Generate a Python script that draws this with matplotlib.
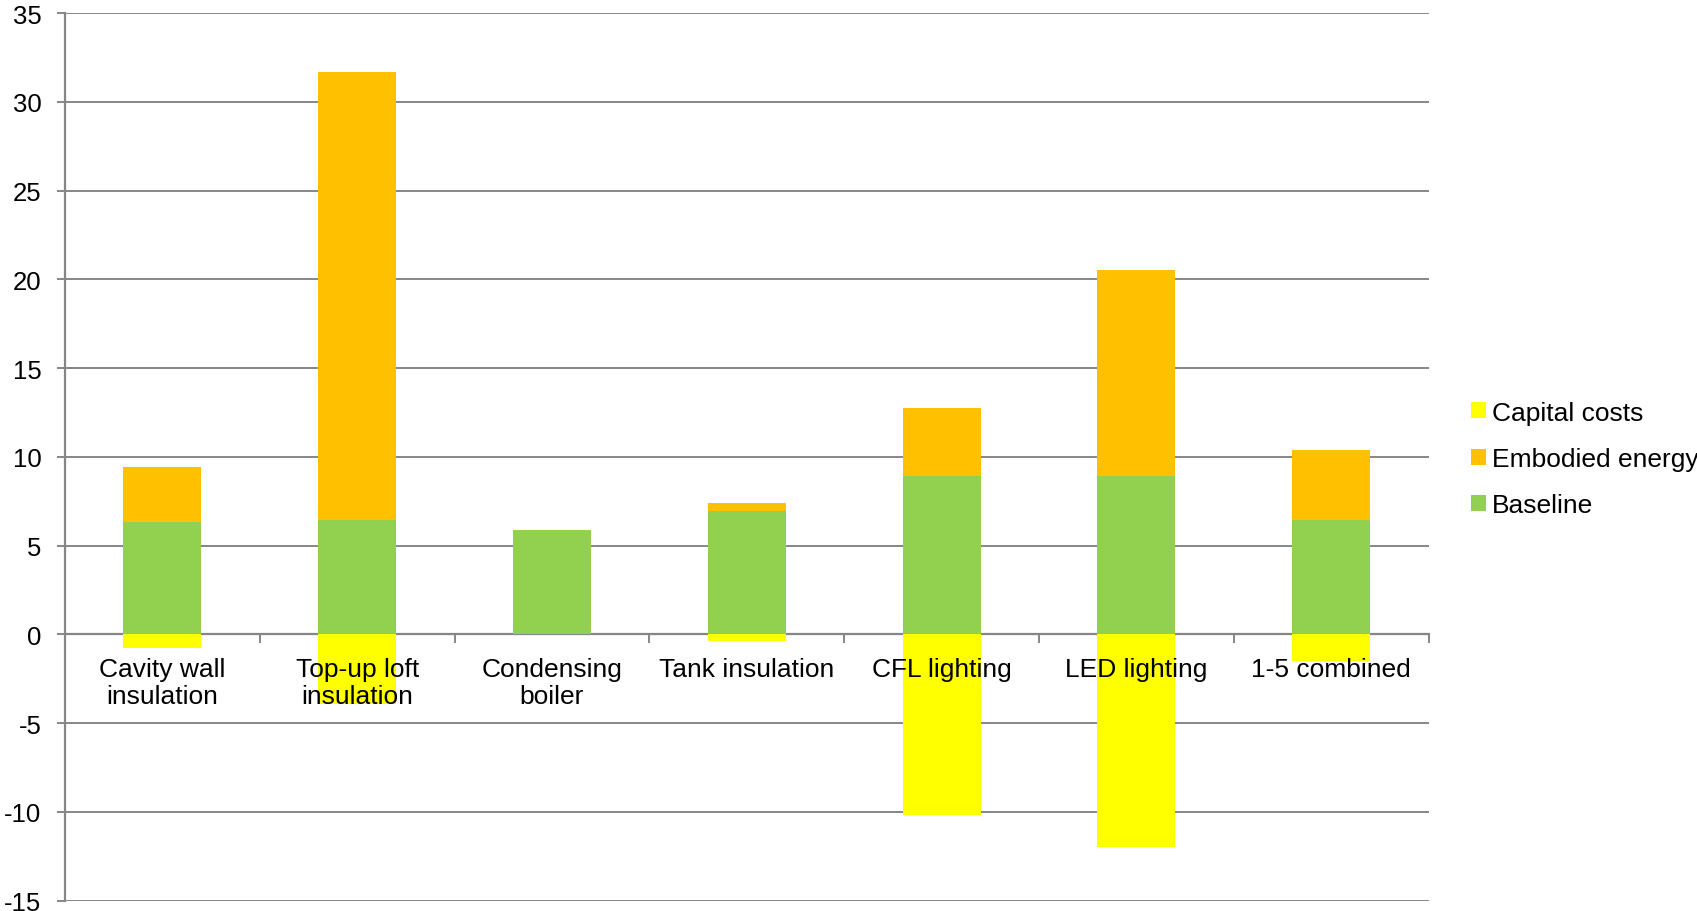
import matplotlib
matplotlib.use("Agg")
import matplotlib.pyplot as plt
import numpy as np
from matplotlib.patches import Patch
from matplotlib.ticker import FixedLocator, NullFormatter

plt.rcParams['font.family'] = ['Liberation Sans', 'DejaVu Sans']
plt.rcParams['axes.unicode_minus'] = False

categories = ["Cavity wall\ninsulation", "Top-up loft\ninsulation", "Condensing\nboiler",
              "Tank insulation", "CFL lighting", "LED lighting", "1-5 combined"]
baseline = [6.34, 6.45, 5.87, 6.93, 8.92, 8.92, 6.45]
embodied = [3.06, 25.2, 0.0, 0.45, 3.85, 11.63, 3.96]
capital = [-0.75, -3.95, 0.0, -0.40, -10.2, -12.0, -1.53]

c_base = "#92D050"
c_emb = "#FFC000"
c_cap = "#FFFF00"
grid_c = "#868686"

fig = plt.figure(figsize=(16.97, 9.12), dpi=100)
ax = fig.add_axes([65 / 1697, 1 - 901.6 / 912, (1428.6 - 65) / 1697, (901.6 - 14) / 912])

x = np.arange(len(categories))
w = 0.4
ax.bar(x, baseline, w, color=c_base, zorder=1, linewidth=0)
ax.bar(x, embodied, w, bottom=baseline, color=c_emb, zorder=1, linewidth=0)
ax.bar(x, capital, w, color=c_cap, zorder=1, linewidth=0)

ax.set_xlim(-0.5, len(categories) - 0.5)
ax.set_ylim(-15, 35)
ax.set_yticks(np.arange(-15, 36, 5))
ax.yaxis.grid(True, color=grid_c, linewidth=1.4)
ax.yaxis.set_zorder(0.5)

for s in ["top", "right"]:
    ax.spines[s].set_visible(False)
ax.spines["left"].set_color(grid_c)
ax.spines["left"].set_linewidth(1.6)
ax.spines["bottom"].set_position(("data", 0))
ax.spines["bottom"].set_color(grid_c)
ax.spines["bottom"].set_linewidth(1.6)
ax.spines["bottom"].set_zorder(0.8)

ax.tick_params(axis="y", direction="out", length=6, width=1.4, color=grid_c,
               labelsize=18.5, pad=11)

# category boundaries as major ticks, labels on minor ticks at bar centres
ax.xaxis.set_major_locator(FixedLocator(np.arange(-0.5, len(categories), 1.0)))
ax.xaxis.set_major_formatter(NullFormatter())
ax.xaxis.set_minor_locator(FixedLocator(x))
ax.set_xticklabels(categories, minor=True, fontsize=19, linespacing=1.2)
ax.tick_params(axis="x", which="major", direction="out", length=6.5, width=1.4, color=grid_c)
ax.tick_params(axis="x", which="minor", length=0, pad=16)
ax.xaxis.set_zorder(5)

handles = [Patch(facecolor=c_cap, label="Capital costs"),
           Patch(facecolor=c_emb, label="Embodied energy"),
           Patch(facecolor=c_base, label="Baseline")]
fig.legend(handles=handles, loc="center left", bbox_to_anchor=(1471 / 1697, 1 - 460 / 912),
           frameon=False, fontsize=19, handlelength=0.56, handleheight=0.56,
           handletextpad=0.25, labelspacing=0.85, borderpad=0, borderaxespad=0)

fig.savefig("out.png", dpi=100)
